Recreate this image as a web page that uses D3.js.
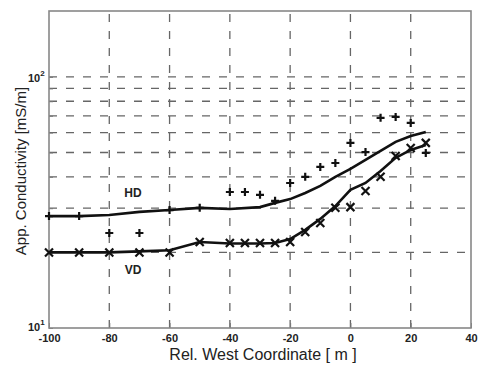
<html>
  <head>
    <meta charset="utf-8">
    <title>App. Conductivity HD / VD</title>
    <script src="https://cdn.jsdelivr.net/npm/d3@7"></script>
    <style>
      body { margin:0; background:#fff; }
      text { font-family: "Liberation Sans", Arial, sans-serif; fill:#222; }
    </style>
    <script>

      // measured points
      var hdX = [-100,-90,-80,-70,-60,-50,-40,-35,-30,-25,-20,-15,-10,-5,0,5,10,15,20,25]
      var hdVal = [27.9,27.9,23.9,23.9,29.5,30.1,34.8,34.8,33.9,32.1,37.8,40.0,43.8,45.4,54.6,50.2,68.7,69.3,65.6,49.8]
      var vdX = [-100,-90,-80,-70,-60,-50,-40,-35,-30,-25,-20,-15,-10,-5,0,5,10,15,20,25]
      var vdVal = [20.0,20.0,20.0,20.0,20.0,22.0,21.8,21.8,21.8,21.8,22.0,24.1,26.2,30.1,30.3,35.1,40.0,48.4,52.1,54.6]

      // model curves
      var hdLineX = [-100,-90,-80,-70,-60,-50,-40,-30,-25,-20,-15,-10,-5,0,5,10,15,20,25]
      var hdLineVal = [27.9,27.9,28.2,29.0,29.5,30.1,29.8,30.3,31.5,32.6,34.5,36.8,40.0,43.0,46.7,50.7,55.1,58.2,60.4]
      var vdLineX = [-100,-90,-80,-70,-60,-50,-40,-30,-25,-20,-15,-10,-5,0,5,10,15,20,25]
      var vdLineVal = [20.0,20.0,20.0,20.2,20.4,22.0,21.7,21.7,21.8,22.6,24.6,27.2,30.6,35.5,37.8,42.2,47.6,51.2,53.6]

      var xTicks = [-100,-80,-60,-40,-20,0,20,40]
      var yGrid = [20,30,40,50,60,70,80,90,100]
      var xLabel = 'Rel. West Coordinate [ m ]'
      var yLabel = 'App. Conductivity [mS/m]'

      function draw() {

        var left = 49, right = 471, top = 11, bottom = 328

        var svg = d3.select('svg').attr('width', 478).attr('height', 367)

        var x = d3.scaleLinear().domain([-100, 40]).range([left, right])
        var y = d3.scaleLog().domain([10, 183]).range([bottom, top])

        // grid
          var grid = svg.append('g')
            .attr('stroke', '#666').attr('stroke-width', 1.3)
            .attr('stroke-dasharray', '8,9')
          grid.selectAll('line.h').data(yGrid).enter().append('line')
            .attr('x1', left).attr('x2', right)
            .attr('y1', function(d){ return y(d) }).attr('y2', function(d){ return y(d) })
          grid.selectAll('line.v').data(xTicks.slice(1, -1)).enter().append('line')
            .attr('y1', bottom).attr('y2', top)
            .attr('x1', function(d){ return x(d) }).attr('x2', function(d){ return x(d) })

        // axes (ticks inward, like matlab)
          var xAxis = svg.append('g').attr('transform', 'translate(0,' + bottom + ')')
            .call(d3.axisBottom(x).tickValues(xTicks).tickSize(-5).tickPadding(6)
              .tickFormat(function(d){ return String(d) }))
          xAxis.selectAll('text').attr('font-size', 11).attr('font-weight', 'bold').attr('fill', '#333')
          var yAxis = svg.append('g').attr('transform', 'translate(' + left + ',0)')
            .call(d3.axisLeft(y).tickValues(yGrid.concat([10])).tickSize(-4).tickFormat(''))
          svg.selectAll('.domain').remove()
          svg.selectAll('.tick line').attr('stroke', '#777')

        // frame
          svg.append('rect')
            .attr('x', left).attr('y', top)
            .attr('width', right - left).attr('height', bottom - top)
            .attr('fill', 'none').attr('stroke', '#888').attr('stroke-width', 1.6)

        // decade labels
          var dec = [10, 100]
          dec.forEach(function(d, i){
            var t = svg.append('text').attr('x', left - 21).attr('y', y(d) + (i ? 5 : 3))
              .attr('font-size', 11).attr('font-weight', 'bold').attr('fill', '#333')
            t.append('tspan').text('10')
            t.append('tspan').text(i + 1).attr('font-size', 8).attr('dy', -6)
          })

        // curves
          var line = d3.line()
            .x(function(d){ return x(d[0]) })
            .y(function(d){ return y(d[1]) })
          svg.append('path').datum(d3.zip(hdLineX, hdLineVal))
            .attr('d', line).attr('fill', 'none').attr('stroke', '#111').attr('stroke-width', 2.6)
          svg.append('path').datum(d3.zip(vdLineX, vdLineVal))
            .attr('d', line).attr('fill', 'none').attr('stroke', '#111').attr('stroke-width', 2.6)

        // markers
          var s = 4
          svg.selectAll('path.hd').data(d3.zip(hdX, hdVal)).enter().append('path')
            .attr('d', function(d){
              var cx = x(d[0]), cy = y(d[1])
              return 'M' + (cx - s) + ',' + cy + 'H' + (cx + s) + 'M' + cx + ',' + (cy - s) + 'V' + (cy + s)
            })
            .attr('stroke', '#111').attr('stroke-width', 2.2)
          svg.selectAll('path.vd').data(d3.zip(vdX, vdVal)).enter().append('path')
            .attr('d', function(d){
              var cx = x(d[0]), cy = y(d[1])
              return 'M' + (cx - s) + ',' + (cy - s) + 'L' + (cx + s) + ',' + (cy + s) +
                     'M' + (cx - s) + ',' + (cy + s) + 'L' + (cx + s) + ',' + (cy - s)
            })
            .attr('stroke', '#111').attr('stroke-width', 2.2)

        // series labels
          svg.append('text').text('HD').attr('x', 133).attr('y', 197)
            .attr('text-anchor', 'middle').attr('font-size', 12).attr('font-weight', 'bold').attr('fill', '#333')
          svg.append('text').text('VD').attr('x', 133).attr('y', 274)
            .attr('text-anchor', 'middle').attr('font-size', 12).attr('font-weight', 'bold').attr('fill', '#333')

        // axis titles
          svg.append('text').text(xLabel).attr('x', 263).attr('y', 360)
            .attr('text-anchor', 'middle').attr('font-size', 16).attr('fill', '#333')
          svg.append('text').text(yLabel)
            .attr('transform', 'translate(26,171) rotate(-90)')
            .attr('text-anchor', 'middle').attr('font-size', 15).attr('fill', '#333')

      } // end draw

    </script>
  </head>

  <body onload="draw()">
    <svg></svg>
  </body>

</html>
